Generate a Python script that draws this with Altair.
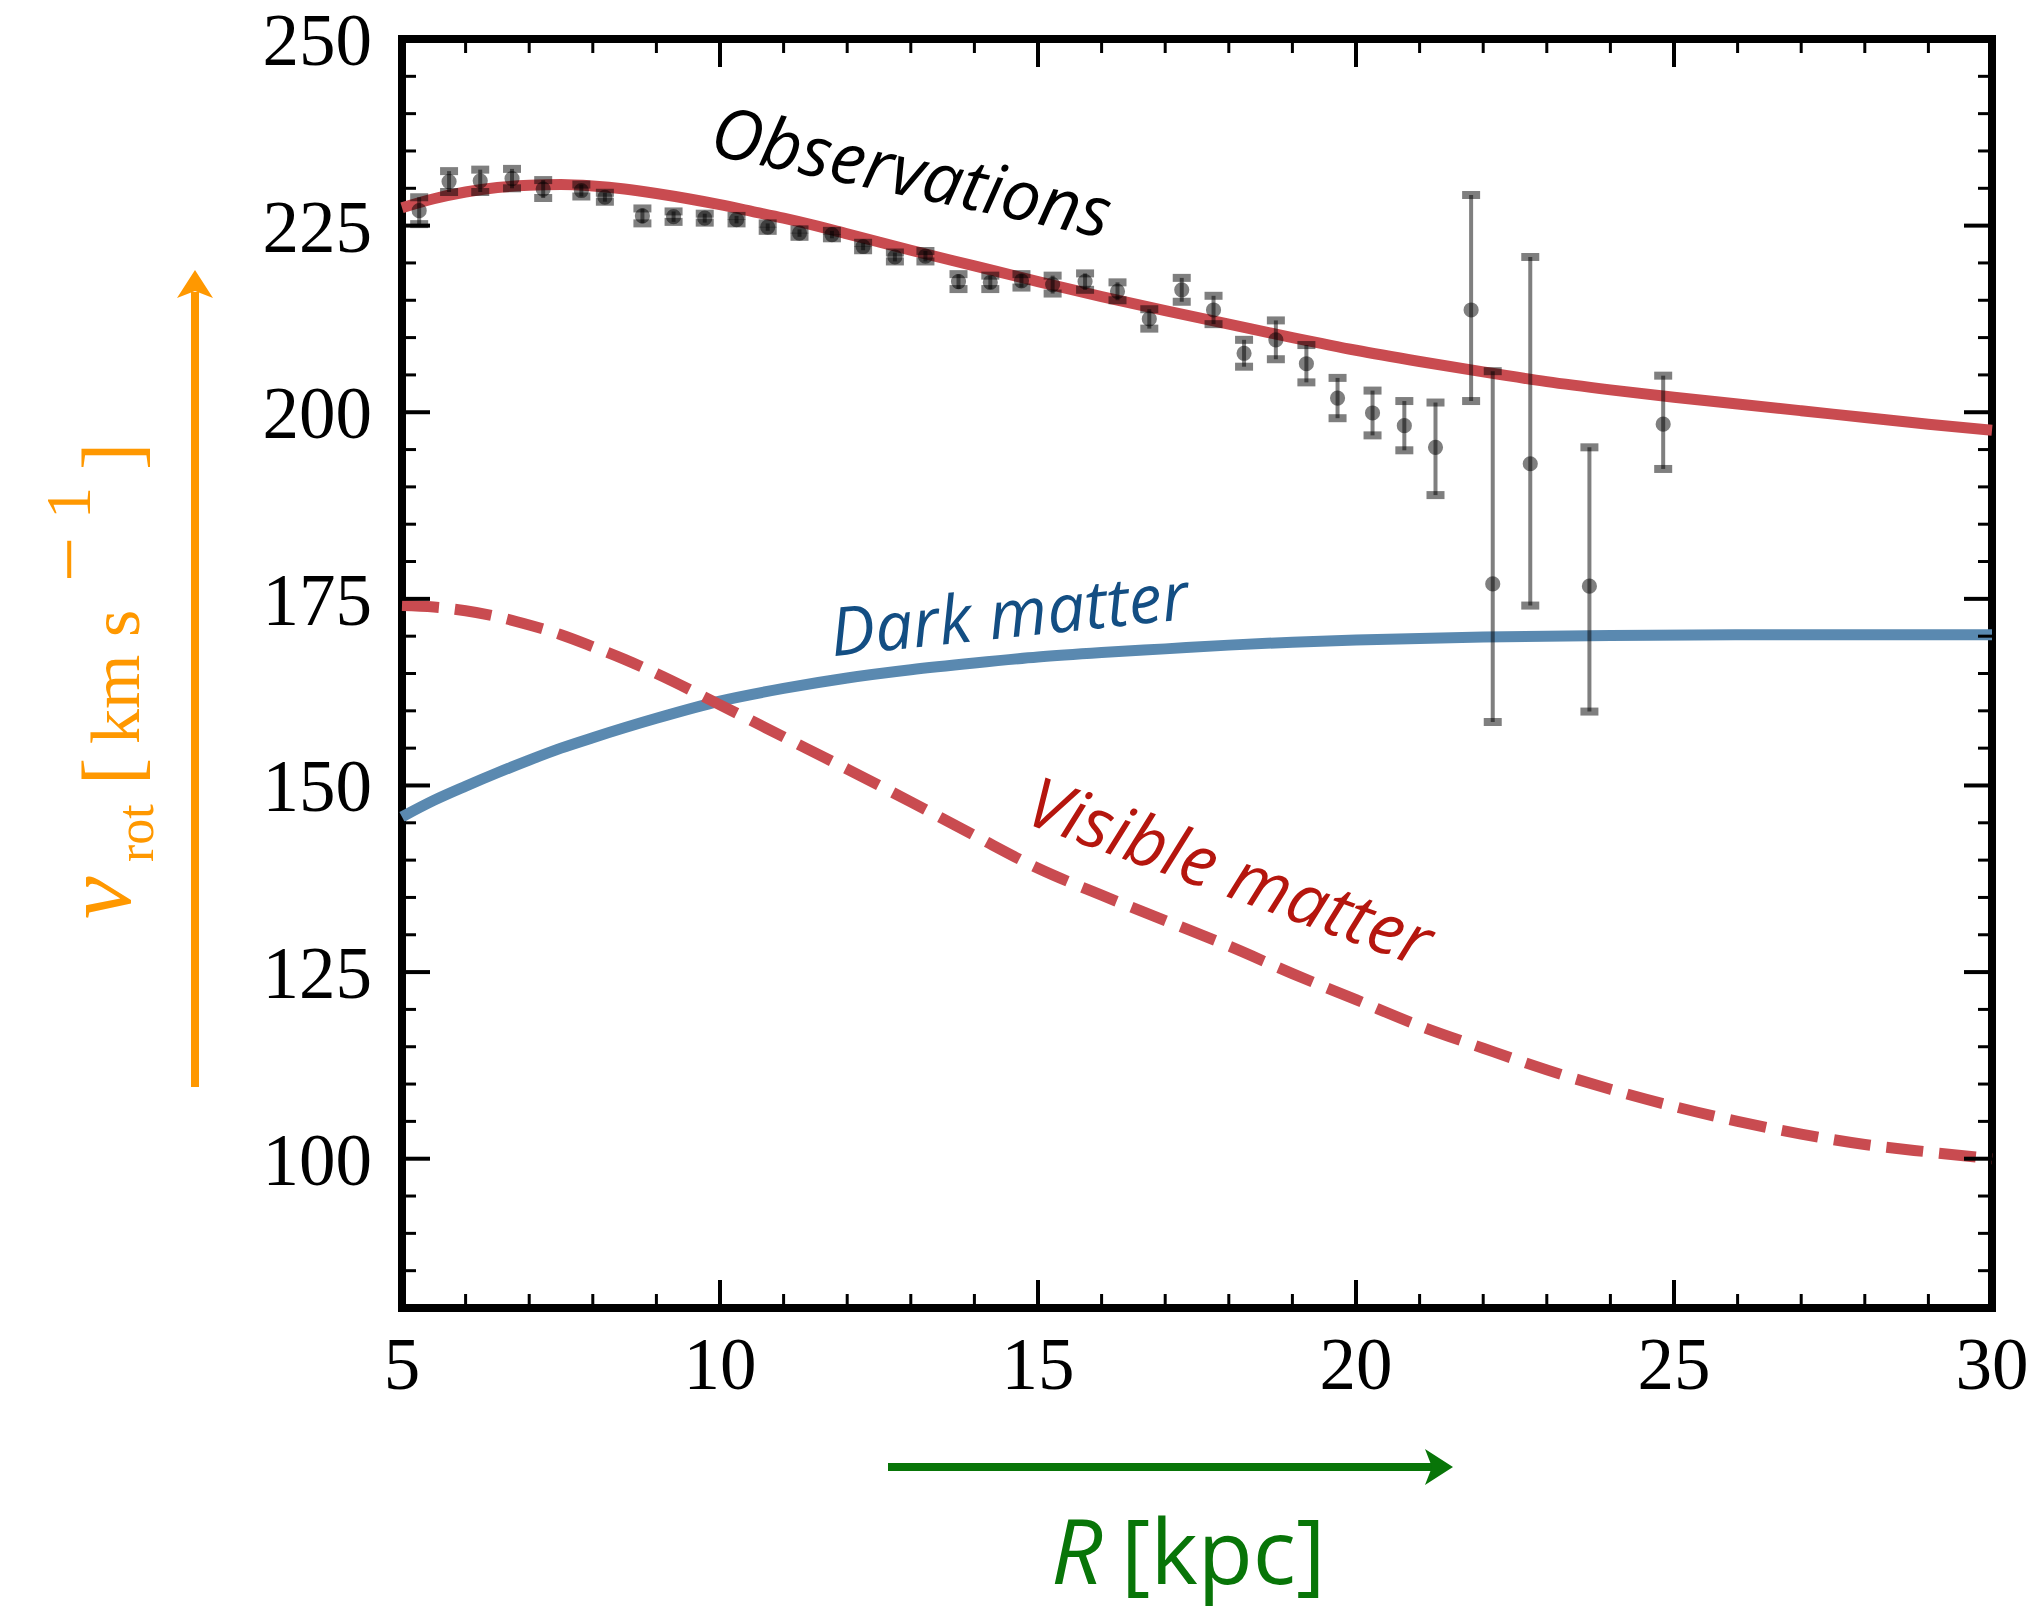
import altair as alt
import pandas as pd

# ---------------- data ----------------
obs_R = [5.27, 5.74, 6.23, 6.73, 7.22, 7.82, 8.19, 8.78, 9.27, 9.76, 10.26, 10.75,
         11.25, 11.76, 12.25, 12.75, 13.23, 13.75, 14.25, 14.74, 15.23, 15.74, 16.25,
         16.75, 17.26, 17.76, 18.24, 18.74, 19.22, 19.71, 20.26, 20.76, 21.25, 21.81,
         22.15, 22.74, 23.67, 24.83]
obs_v = [227.0, 230.9, 231.0, 231.3, 229.9, 229.7, 228.8, 226.3, 226.2, 226.0, 225.8, 224.8,
         224.0, 223.8, 222.2, 220.8, 220.9, 217.5, 217.4, 217.6, 217.1, 217.5, 216.2,
         212.5, 216.4, 213.7, 207.9, 209.7, 206.5, 201.9, 199.9, 198.2, 195.3, 213.7,
         177.0, 193.1, 176.7, 198.4]
err_lo = [1.8, 1.4, 1.5, 1.3, 1.2, 0.8, 0.6, 1.0, 0.7, 0.6, 0.5, 0.5,
          0.5, 0.5, 0.5, 0.6, 0.7, 1.0, 0.9, 0.9, 1.2, 1.1, 1.2,
          1.3, 1.6, 1.9, 1.8, 2.6, 2.5, 2.7, 3.0, 3.3, 6.4, 12.2,
          18.5, 19.0, 16.8, 6.0]
err_hi = [1.8, 1.4, 1.5, 1.3, 1.2, 0.8, 0.6, 1.0, 0.7, 0.6, 0.5, 0.5,
          0.5, 0.5, 0.5, 0.6, 0.7, 1.0, 0.9, 0.9, 1.2, 1.1, 1.2,
          1.3, 1.6, 1.9, 1.8, 2.6, 2.5, 2.7, 3.0, 3.3, 6.0, 15.4,
          28.5, 27.7, 18.6, 6.5]

total_R = [5, 5.5, 6, 6.5, 7, 7.5, 8, 8.5, 9, 9.5, 10, 10.5, 11, 11.5, 12, 12.5, 13,
           14, 15, 16, 17, 18, 19, 20, 21, 22, 23, 24, 25, 26, 27, 28, 29, 30]
total_v = [227.4, 228.6, 229.5, 230.1, 230.4, 230.5, 230.3, 229.9, 229.3, 228.6, 227.8,
           226.9, 226.0, 225.0, 223.9, 222.8, 221.7, 219.6, 217.5, 215.5, 213.6, 211.8,
           210.0, 208.3, 206.8, 205.4, 204.1, 203.0, 202.0, 201.1, 200.2, 199.3, 198.4, 197.6]

dm_R = [5, 5.5, 6, 6.5, 7, 7.5, 8, 9, 10, 11, 12, 13, 14, 15, 16, 17, 18, 19, 20,
        22, 24, 26, 28, 30]
dm_v = [145.8, 148.0, 149.9, 151.7, 153.4, 155.0, 156.4, 159.0, 161.3, 163.0, 164.4,
        165.5, 166.4, 167.2, 167.8, 168.3, 168.8, 169.2, 169.5, 169.9, 170.1, 170.2,
        170.2, 170.2]

vis_R = [5, 5.5, 6, 6.5, 7, 7.5, 8, 8.5, 9, 10, 11, 12, 13, 14, 15, 16, 17, 18, 19,
         20, 21, 22, 23, 24, 25, 26, 27, 28, 29, 30]
vis_v = [174.1, 173.9, 173.4, 172.6, 171.5, 170.2, 168.6, 166.9, 165.0, 160.8, 156.5,
         152.2, 147.8, 143.3, 138.9, 135.3, 131.9, 128.5, 124.8, 121.3, 117.8, 114.8,
         111.9, 109.3, 107.0, 105.0, 103.3, 101.9, 100.9, 100.0]

x_major = [5, 10, 15, 20, 25, 30]
x_minor = [6, 7, 8, 9, 11, 12, 13, 14, 16, 17, 18, 19, 21, 22, 23, 24, 26, 27, 28, 29]
y_major = [100, 125, 150, 175, 200, 225, 250]
y_minor = [85, 90, 95, 105, 110, 115, 120, 130, 135, 140, 145, 155, 160, 165, 170,
           180, 185, 190, 195, 205, 210, 215, 220, 230, 235, 240, 245]
x_labels = ["5", "10", "15", "20", "25", "30"]
y_labels = ["100", "125", "150", "175", "200", "225", "250"]

# ---------------- layout ----------------
W, H = 1590, 1269
RED = "#C94B50"
BLUE = "#5A89B0"
ORANGE = "#FF9800"
GREEN = "#087508"
SERIF = "Liberation Serif"
SANS = "Open Sans"

xs = alt.Scale(domain=[5, 30], nice=False, zero=False)
ys = alt.Scale(domain=[80, 250], nice=False, zero=False)

df_obs = pd.DataFrame({
    "R": obs_R, "v": obs_v,
    "lo": [v - e for v, e in zip(obs_v, err_lo)],
    "hi": [v + e for v, e in zip(obs_v, err_hi)],
})
df_tot = pd.DataFrame({"R": total_R, "v": total_v})
df_dm = pd.DataFrame({"R": dm_R, "v": dm_v})
df_vis = pd.DataFrame({"R": vis_R, "v": vis_v})

X = lambda f="R": alt.X(f + ":Q", scale=xs, axis=None)
Y = lambda f="v": alt.Y(f + ":Q", scale=ys, axis=None)

total = alt.Chart(df_tot).mark_line(color=RED, strokeWidth=11, interpolate="monotone").encode(
    x=X(), y=Y())
dm = alt.Chart(df_dm).mark_line(color=BLUE, strokeWidth=11, interpolate="monotone").encode(
    x=X(), y=Y())
vis = alt.Chart(df_vis).mark_line(color=RED, strokeWidth=11, interpolate="monotone",
                                  strokeDash=[37, 16]).encode(x=X(), y=Y())

bars = alt.Chart(df_obs).mark_rule(color="black", opacity=0.5, strokeWidth=4).encode(
    x=X(), y=Y("lo"), y2="hi:Q")
cap_lo = alt.Chart(df_obs).mark_tick(color="black", opacity=0.5, orient="horizontal",
                                     size=18, thickness=8).encode(x=X(), y=Y("lo"))
cap_hi = alt.Chart(df_obs).mark_tick(color="black", opacity=0.5, orient="horizontal",
                                     size=18, thickness=8).encode(x=X(), y=Y("hi"))
pts = alt.Chart(df_obs).mark_circle(color="black", opacity=0.5, size=230).encode(
    x=X(), y=Y())

# inward ticks on all four sides
def xticks(vals, L, w):
    d = pd.DataFrame({"t": vals})
    b = alt.Chart(d).mark_rule(color="black", strokeWidth=w).encode(
        x=X("t"), y=alt.value(H), y2=alt.value(H - L))
    t = alt.Chart(d).mark_rule(color="black", strokeWidth=w).encode(
        x=X("t"), y=alt.value(0), y2=alt.value(L))
    return [b, t]

def yticks(vals, L, w):
    d = pd.DataFrame({"t": vals})
    l = alt.Chart(d).mark_rule(color="black", strokeWidth=w).encode(
        y=Y("t"), x=alt.value(0), x2=alt.value(L))
    r = alt.Chart(d).mark_rule(color="black", strokeWidth=w).encode(
        y=Y("t"), x=alt.value(W), x2=alt.value(W - L))
    return [l, r]

tick_layers = (xticks(x_major[1:-1], 28, 4) + xticks(x_minor, 14, 3)
               + yticks(y_major[:-1], 28, 4) + yticks(y_minor, 14, 3))

# tick labels
xlab_tick = alt.Chart(pd.DataFrame({"t": x_major, "lab": x_labels})).mark_text(
    font=SERIF, fontSize=73, color="black", align="center", baseline="alphabetic").encode(
    x=X("t"), y=alt.value(1350), text="lab:N")
ylab_tick = alt.Chart(pd.DataFrame({"t": y_major, "lab": y_labels})).mark_text(
    font=SERIF, fontSize=73, color="black", align="right", baseline="alphabetic", dy=26).encode(
    y=Y("t"), x=alt.value(-30), text="lab:N")

# annotations in data coordinates
def annot(txt, R, v, angle, color, size):
    return alt.Chart(pd.DataFrame({"R": [R], "v": [v], "t": [txt]})).mark_text(
        font=SANS, fontStyle="italic", fontSize=size, color=color, angle=angle,
        align="center", baseline="middle").encode(x=X(), y=Y(), text="t:N")

ann = [
    annot("Observations", 13.0, 231.7, 12, "black", 70),
    annot("Dark matter", 14.55, 172.5, 354, "#134E83", 67),
    annot("Visible matter", 18.0, 138.0, 20, "#B5160E", 70),
]

# outer axis titles and arrows (pixel positions relative to plot area)
def txt(s, x, y, size, color, font, style="normal", angle=0, align="left"):
    return alt.Chart(pd.DataFrame({"t": [s]})).mark_text(
        font=font, fontSize=size, fontStyle=style, color=color, angle=angle,
        align=align, baseline="alphabetic").encode(
        text="t:N", x=alt.value(x), y=alt.value(y))

ylab = [
    txt("v", -272, 880, 96, ORANGE, SERIF, "italic", 270),
    txt("rot", -249, 823, 52, ORANGE, SERIF, "normal", 270),
    txt("[", -263, 746, 82, ORANGE, SERIF, "normal", 270),
    txt("km", -263, 705, 70, ORANGE, SERIF, "normal", 270),
    txt("s", -263, 598, 70, ORANGE, SERIF, "normal", 270),
    txt("\u2212", -306, 543, 80, ORANGE, SERIF, "normal", 270),
    txt("1", -312, 480, 64, ORANGE, SERIF, "normal", 270),
    txt("]", -263, 431, 82, ORANGE, SERIF, "normal", 270),
]
xlab = [
    txt("R", 649, 1545, 90, GREEN, SANS, "italic", 0),
    txt("[kpc]", 719, 1545, 90, GREEN, SANS, "normal", 0),
]

one = pd.DataFrame({"a": [0]})
HEAD = 36
up_path = "M0,-1L1,0.556L0,0.167L-1,0.556Z"
right_path = "M1,0L-0.556,1L-0.167,0L-0.556,-1Z"
arrows = [
    alt.Chart(one).mark_rule(color=ORANGE, strokeWidth=8).encode(
        x=alt.value(-207), y=alt.value(1048), y2=alt.value(253)),
    alt.Chart(one).mark_point(shape=up_path, filled=True, size=HEAD * HEAD, color=ORANGE,
                              opacity=1, strokeWidth=0).encode(
        x=alt.value(-207), y=alt.value(249)),
    alt.Chart(one).mark_rule(color=GREEN, strokeWidth=8).encode(
        y=alt.value(1428), x=alt.value(486), x2=alt.value(1030)),
    alt.Chart(one).mark_point(shape=right_path, filled=True, size=HEAD * HEAD, color=GREEN,
                              opacity=1, strokeWidth=0).encode(
        x=alt.value(1033), y=alt.value(1428)),
]

chart = alt.layer(
    total, dm, vis, bars, cap_lo, cap_hi, pts, *tick_layers, xlab_tick, ylab_tick,
    *ann, *ylab, *xlab, *arrows
).properties(
    width=W, height=H,
    autosize=alt.AutoSizeParams(type="none"),
    padding={"left": 394, "top": 31, "right": 37, "bottom": 301},
    background="white",
).configure_view(stroke="black", strokeWidth=8)

chart.save("out.html", embed_options={"renderer": "svg", "actions": False})
